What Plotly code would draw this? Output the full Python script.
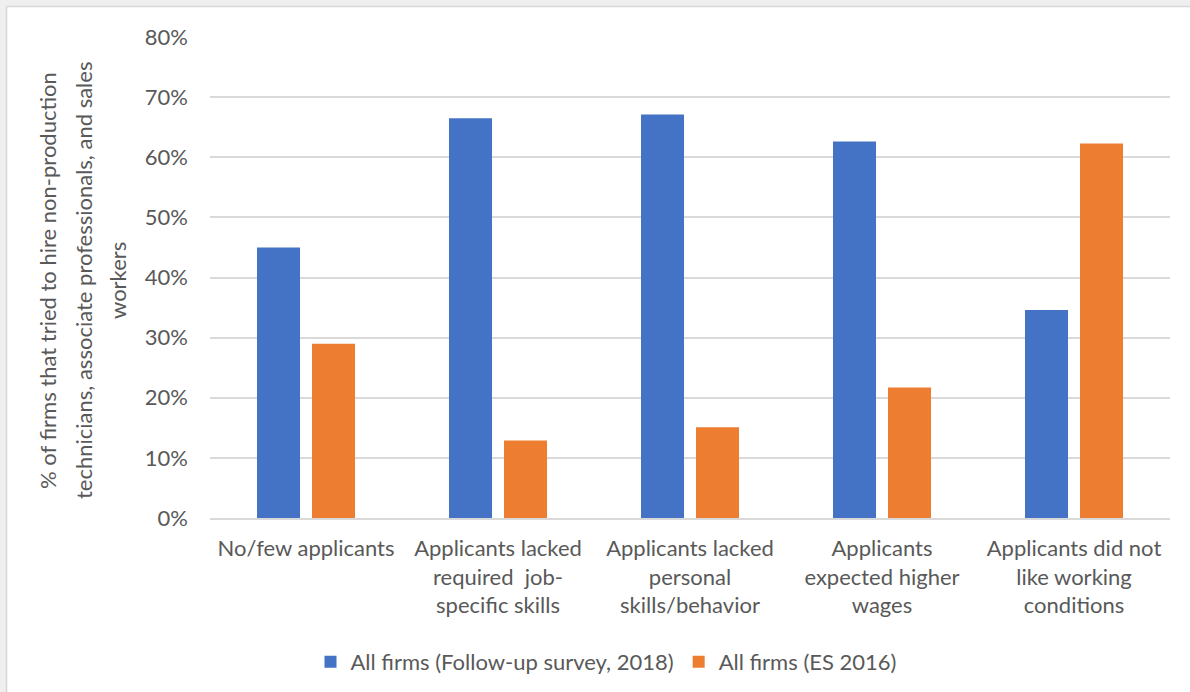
import plotly.graph_objects as go

categories = [
    "No/few applicants",
    "Applicants lacked<br>required  job-<br>specific skills",
    "Applicants lacked<br>personal<br>skills/behavior",
    "Applicants<br>expected higher<br>wages",
    "Applicants did not<br>like working<br>conditions",
]
followup_2018 = [45.0, 66.5, 67.1, 62.6, 34.6]
es_2016 = [29.0, 12.9, 15.1, 21.7, 62.3]
series_names = ["All firms (Follow-up survey, 2018)", "All firms (ES 2016)"]
y_title_lines = [
    "% of firms that tried to hire non-production",
    "technicians, associate professionals, and sales",
    "workers",
]

FONT = "Lato"
FS = 22
TXT = "#595959"
W, H = 1190, 692
ML, MR, MT, MB = 210, 20, 37, 174
PW = W - ML - MR
PH = H - MT - MB


def px_x(px):
    return (px - ML) / PW


def px_y(py):
    return (H - MB - py) / PH


fig = go.Figure()
fig.add_trace(go.Bar(x=categories, y=followup_2018, name=series_names[0],
                     marker=dict(color="#4472C4", line=dict(width=0))))
fig.add_trace(go.Bar(x=categories, y=es_2016, name=series_names[1],
                     marker=dict(color="#ED7D31", line=dict(width=0))))

annotations = []
for line, xp in zip(y_title_lines, [47, 83, 117]):
    annotations.append(dict(
        text=line, textangle=-90, xref="paper", yref="paper",
        x=px_x(xp), y=px_y(281), xanchor="center", yanchor="middle",
        showarrow=False, font=dict(family=FONT, size=FS, color=TXT)))

shapes = [
    dict(type="rect", xref="paper", yref="paper", x0=px_x(-5), x1=px_x(6),
         y0=px_y(H + 5), y1=px_y(-5), fillcolor="#efefef", line=dict(width=0), layer="below"),
    dict(type="rect", xref="paper", yref="paper", x0=px_x(-5), x1=px_x(W + 5),
         y0=px_y(6), y1=px_y(-5), fillcolor="#efefef", line=dict(width=0), layer="below"),
    dict(type="line", xref="paper", yref="paper", x0=px_x(6.5), x1=px_x(6.5),
         y0=px_y(6.5), y1=px_y(H + 5), line=dict(color="#d6d6d6", width=1.5)),
    dict(type="line", xref="paper", yref="paper", x0=px_x(6.5), x1=px_x(W + 5),
         y0=px_y(6.5), y1=px_y(6.5), line=dict(color="#d6d6d6", width=1.5)),
]

fig.update_layout(
    width=W, height=H,
    margin=dict(l=ML, r=MR, t=MT, b=MB, autoexpand=False),
    paper_bgcolor="white", plot_bgcolor="white",
    barmode="group", bargap=0.427, bargroupgap=0.218,
    font=dict(family=FONT, size=FS, color=TXT),
    showlegend=True,
    legend=dict(orientation="h", xref="container", yref="container",
                x=606 / W, y=1 - 662 / H, xanchor="center", yanchor="middle",
                font=dict(family=FONT, size=FS, color=TXT),
                itemwidth=30, traceorder="normal"),
    annotations=annotations,
    shapes=shapes,
)
fig.update_xaxes(showgrid=False, showline=True, linecolor="#d9d9d9", linewidth=1.5,
                 ticks="", tickfont=dict(family=FONT, size=FS, color=TXT),
                 ticklabelstandoff=10)
fig.update_yaxes(range=[0, 80], dtick=10, ticksuffix="%", showgrid=True,
                 gridcolor="#d9d9d9", gridwidth=1.5, zeroline=False, showline=False,
                 ticks="", tickfont=dict(family=FONT, size=FS, color=TXT),
                 ticklabelstandoff=21)

fig.write_html("out.html", config={"displayModeBar": False},
               post_script="document.body.style.margin='0';")
